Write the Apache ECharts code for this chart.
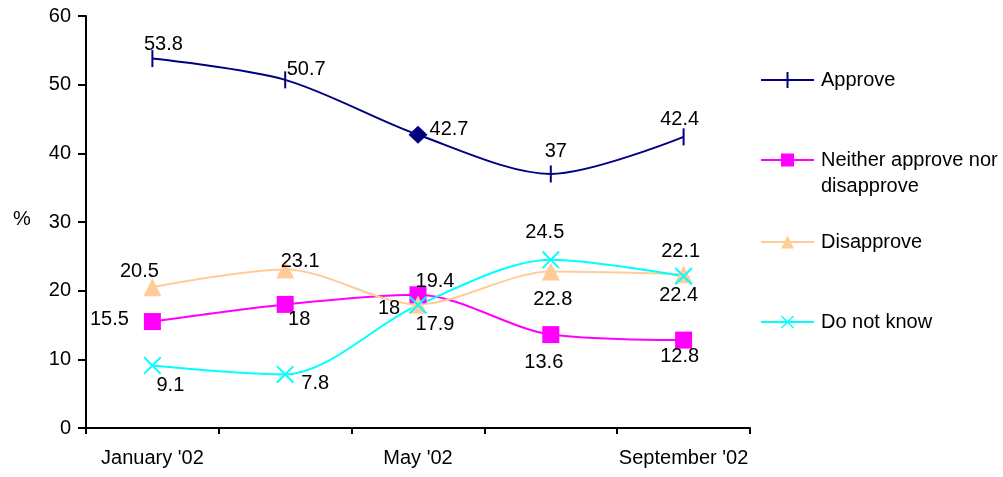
<!DOCTYPE html>
<html>
<head>
<meta charset="utf-8">
<script src="https://cdn.jsdelivr.net/npm/echarts@6/dist/echarts.min.js"></script>
<style>
  html, body { margin: 0; padding: 0; background: #fff; }
  #chart { width: 1003px; height: 477px; }
</style>
</head>
<body>
<div id="chart"></div>
<script>
// data
const months = ["January '02", "March '02", "May '02", "July '02", "September '02"];
const approve = [53.8, 50.7, 42.7, 37, 42.4];
const neither = [15.5, 18, 19.4, 13.6, 12.8];
const disapprove = [20.5, 23.1, 18, 22.8, 22.4];
const dontKnow = [9.1, 7.8, 17.9, 24.5, 22.1];
const yMin = 0, yMax = 60, yStep = 10;

// label offsets (px) from each point, so labels don't collide
const approveOff = [[11, -14], [21, -10], [31, -5], [5, -22], [-4, -17]];
const neitherOff = [[-43, -2], [14, 15], [17, -13], [-7, 28], [-4, 16]];
const disapproveOff = [[-13, -16], [15, -8], [-29, 4], [2, 28], [-5, 21]];
const dontKnowOff = [[18, 20], [30, 9], [17, 19], [-6, -27], [-3, -25]];

const FONT = "'Liberation Sans', Arial, sans-serif";
const X_MARK = 'path://M0,1 L1,0 L13,12 L12,13 Z M12,0 L13,1 L1,13 L0,12 Z';

function points(values, offsets) {
  return values.map((v, i) => ({
    value: v,
    label: { offset: offsets[i] }
  }));
}

function lineSeries(name, color, values, offsets, symbol, size) {
  return {
    name: name,
    type: 'line',
    smooth: 0.3,
    data: points(values, offsets),
    symbol: symbol,
    symbolSize: size,
    showAllSymbol: true,
    lineStyle: { color: color, width: 2 },
    itemStyle: { color: color },
    label: {
      show: true,
      position: 'inside',
      align: 'center',
      verticalAlign: 'middle',
      color: '#000',
      fontSize: 20,
      fontFamily: FONT
    },
    emphasis: { disabled: true }
  };
}

function legendAt(name, top, icon, h, lines) {
  return {
    data: [{ name: name, icon: icon }],
    left: 761,
    top: top,
    padding: 0,
    itemWidth: 53,
    itemHeight: h,
    itemGap: 0,
    selectedMode: false,
    formatter: lines ? () => lines : undefined,
    textStyle: {
      color: '#000',
      fontSize: 20,
      fontFamily: FONT,
      lineHeight: 26,
      padding: [0, 0, 0, 2]
    }
  };
}

const chart = echarts.init(document.getElementById('chart'));

const approveSeries = lineSeries('Approve', '#000080', approve, approveOff, 'rect', [2, 17]);
approveSeries.data[2].symbol = 'diamond';
approveSeries.data[2].symbolSize = [19, 18];

const option = {
  animation: false,
  backgroundColor: '#fff',
  grid: { left: 86, right: 253, top: 16, bottom: 49 },
  xAxis: {
    type: 'category',
    data: months,
    boundaryGap: true,
    axisLine: { lineStyle: { color: '#000', width: 2 } },
    axisTick: { show: true, interval: 0, length: 6, lineStyle: { color: '#000', width: 2 } },
    axisLabel: { interval: 1, margin: 20, color: '#000', fontSize: 20, fontFamily: FONT }
  },
  yAxis: {
    type: 'value',
    min: yMin,
    max: yMax,
    interval: yStep,
    splitLine: { show: false },
    axisLine: { show: true, lineStyle: { color: '#000', width: 2 } },
    axisTick: { show: true, length: 8, lineStyle: { color: '#000', width: 2 } },
    axisLabel: { margin: 15, color: '#000', fontSize: 20, fontFamily: FONT }
  },
  legend: [
    legendAt('Approve', 67, 'path://M0,7 H53 V9 H0 Z M25.5,0 H27.5 V16 H25.5 Z', 16),
    // blank first line keeps the icon level with the first text line
    legendAt('Neither approve nor disapprove', 121,
      'path://M0,5.5 H53 V7.5 H0 Z M20,0 H33 V13 H20 Z', 13, ' \nNeither approve nor\ndisapprove'),
    legendAt('Disapprove', 229, 'path://M0,5.5 H53 V7.5 H0 Z M26.5,0 L33,13 L20,13 Z', 13),
    legendAt('Do not know', 309,
      'path://M0,5.5 H53 V7.5 H0 Z M20,1 L21,0 L33,12 L32,13 Z M32,0 L33,1 L21,13 L20,12 Z', 13)
  ],
  graphic: [{
    type: 'text',
    left: 13,
    top: 209,
    style: { text: '%', fill: '#000', fontSize: 20, fontFamily: FONT }
  }],
  series: [
    approveSeries,
    lineSeries('Neither approve nor disapprove', '#FF00FF', neither, neitherOff, 'rect', 17),
    lineSeries('Disapprove', '#FFCC99', disapprove, disapproveOff, 'triangle', 18),
    lineSeries('Do not know', '#00FFFF', dontKnow, dontKnowOff, X_MARK, 18)
  ]
};

chart.setOption(option);
window.addEventListener('resize', () => chart.resize());
</script>
</body>
</html>
